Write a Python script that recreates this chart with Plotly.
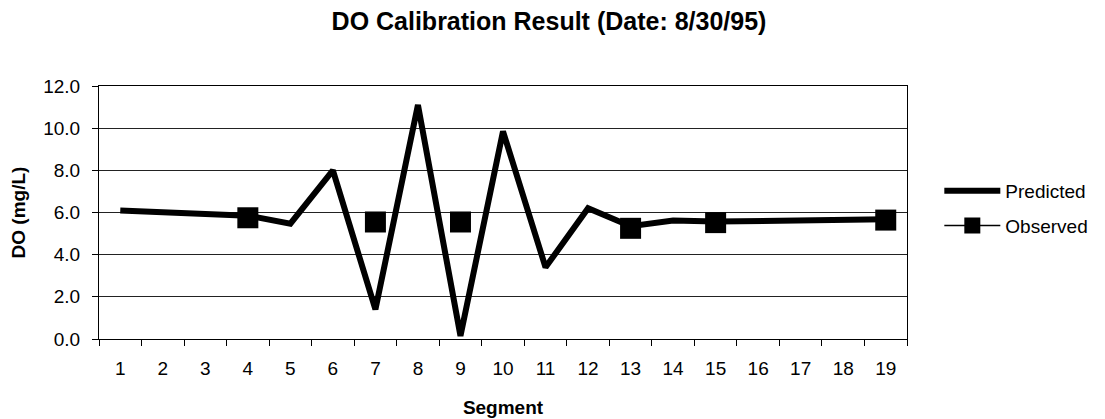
import plotly.graph_objects as go

segments = [str(i) for i in range(1, 20)]
predicted = [6.1, 6.0, 5.88, 5.85, 5.47, 8.0, 1.4, 11.1, 0.15, 9.85, 3.4, 6.2, 5.35, 5.62, 5.57, 5.6, 5.62, 5.65, 5.68]
observed = [None, None, None, 5.75, None, None, 5.55, None, 5.55, None, None, None, 5.25, None, 5.52, None, None, None, 5.64]
y_ticks = [0, 2, 4, 6, 8, 10, 12]

font = "Liberation Sans, Arial, sans-serif"

fig = go.Figure()
fig.add_trace(go.Scatter(x=segments, y=predicted, name="Predicted", mode="lines", legendgroup="p",
                         line=dict(color="black", width=6)))
fig.add_trace(go.Scatter(x=segments, y=observed, name="Observed", mode="lines+markers", legendgroup="o",
                         connectgaps=False,
                         line=dict(color="black", width=1.5),
                         marker=dict(symbol="square", size=21, color="black")))

fig.update_layout(
    width=1097, height=411,
    paper_bgcolor="white", plot_bgcolor="white",
    margin=dict(l=91, r=185, t=78, b=80),
    font=dict(family=font, size=19, color="black"),
    title=dict(text="<b>DO Calibration Result (Date: 8/30/95)</b>", x=541 / 1097, xref="container",
               xanchor="center", y=1 - 13 / 411, yanchor="middle", font=dict(size=25)),
    showlegend=True,
    legend=dict(x=1.04, xanchor="left", y=0.66, yanchor="top", font=dict(size=19),
                bgcolor="rgba(0,0,0,0)", tracegroupgap=7, itemwidth=56),
)
fig.update_xaxes(type="category", tickson="boundaries", ticks="outside", ticklen=6,
                 tickcolor="black", showline=True, linecolor="black", linewidth=1, mirror=True,
                 showgrid=False, zeroline=False, automargin=False, ticklabelstandoff=12,
                 title=dict(text="<b>Segment</b>", font=dict(size=19), standoff=22),
                 range=[-0.5, 18.5])
fig.update_yaxes(range=[0, 12], tickvals=y_ticks, tickformat=".1f", ticks="outside", ticklen=6,
                 tickcolor="black", showline=True, linecolor="black", linewidth=1, mirror=True,
                 showgrid=True, gridcolor="#222222", gridwidth=1, zeroline=False,
                 automargin=False, ticklabelstandoff=8,
                 title=dict(text="<b>DO (mg/L)</b>", font=dict(size=19), standoff=12))

fig.write_html("out.html")
